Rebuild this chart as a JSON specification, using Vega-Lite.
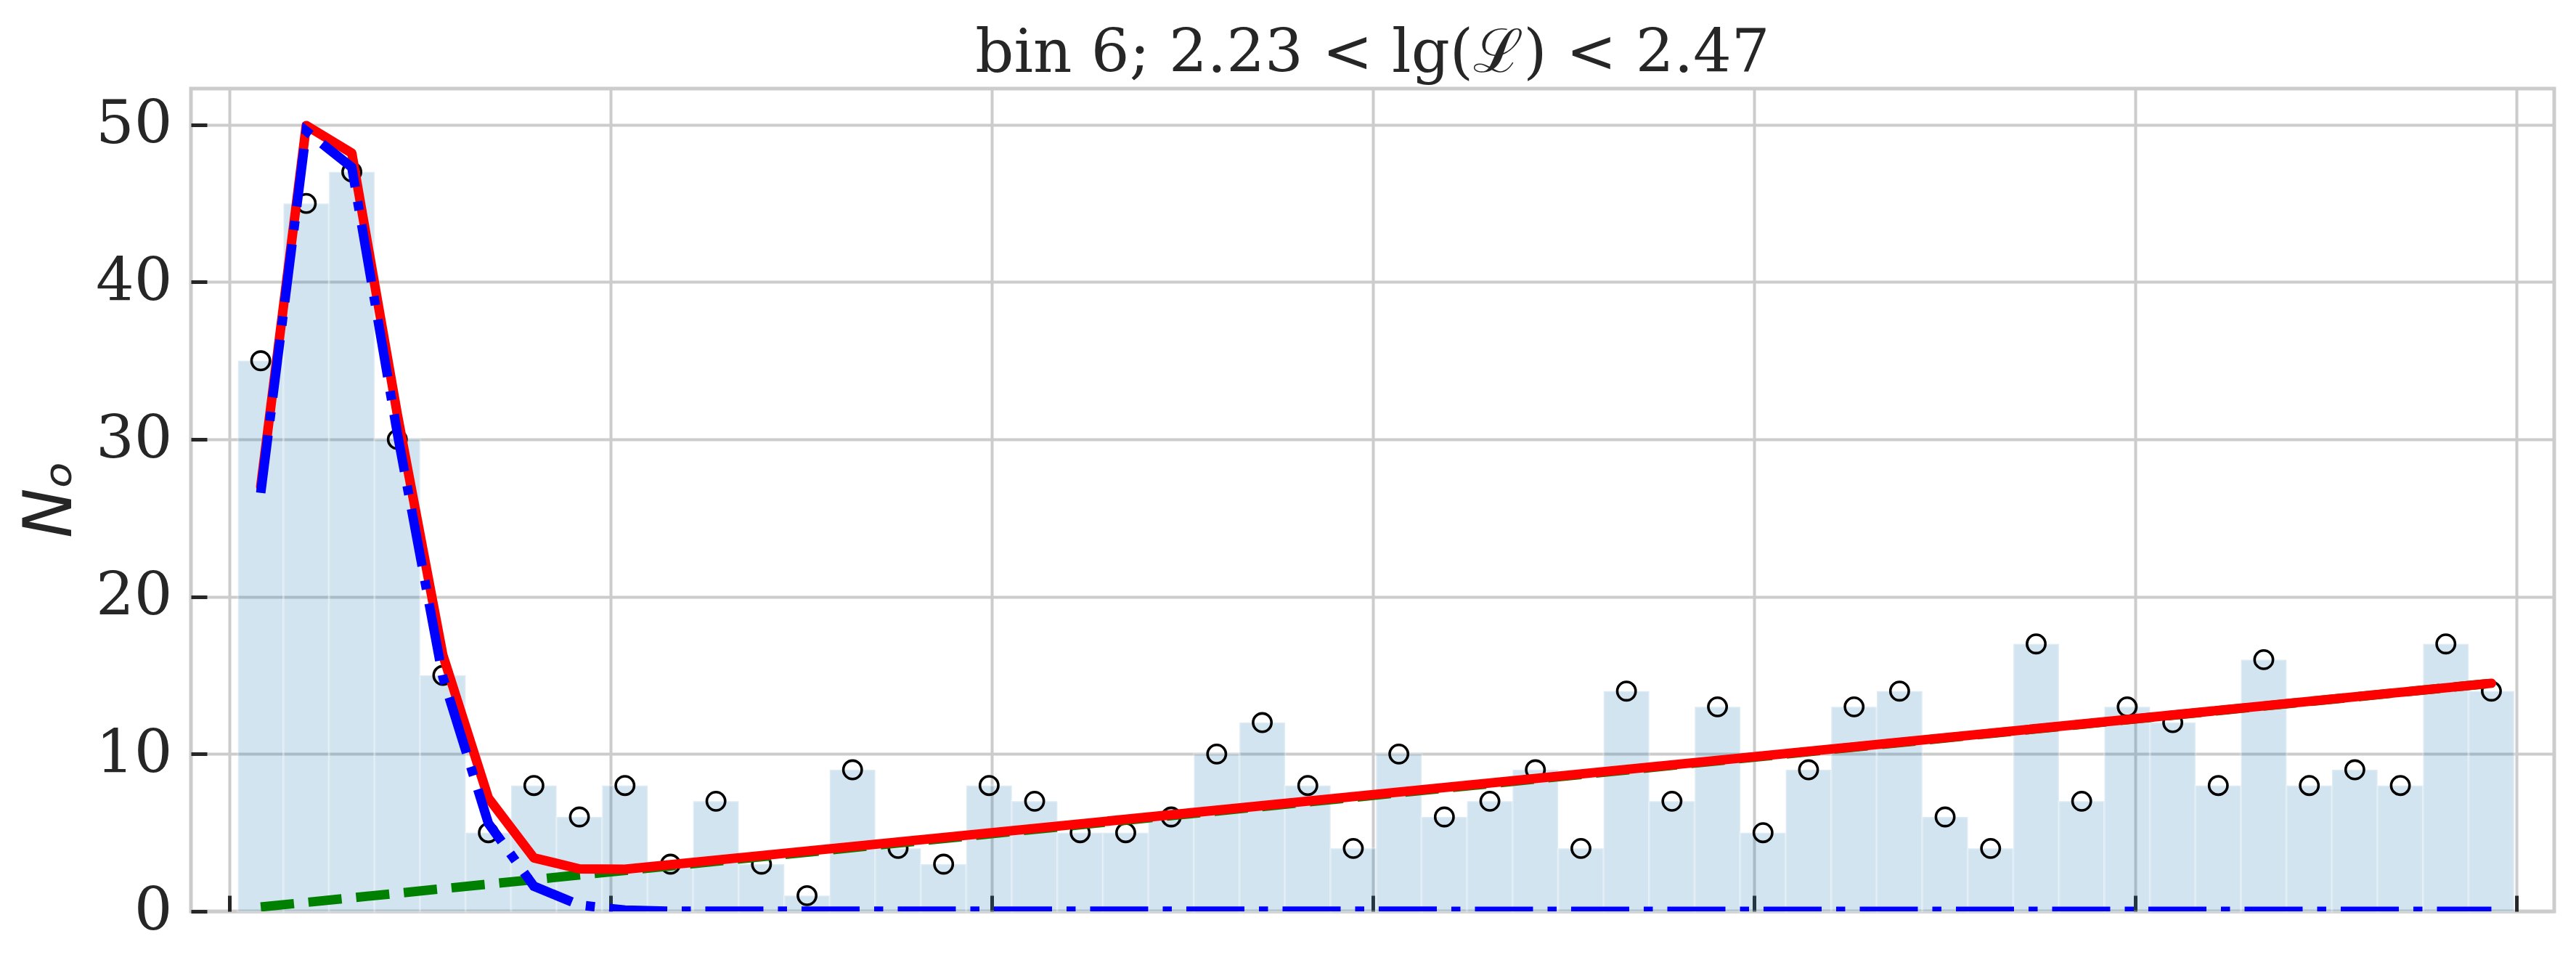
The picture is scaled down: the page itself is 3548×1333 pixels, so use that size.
{
  "$schema": "https://vega.github.io/schema/vega-lite/v6.json",
  "width": 3255,
  "height": 1133,
  "autosize": {"type": "none"},
  "padding": {"left": 263, "top": 122, "right": 30, "bottom": 78},
  "background": "white",
  "title": {
    "text": "bin 6; 2.23 < lg(ℒ) < 2.47",
    "font": "DejaVu Serif",
    "fontSize": 83,
    "fontWeight": "normal",
    "color": "#262626",
    "anchor": "middle",
    "baseline": "bottom",
    "offset": 3,
    "dy": 80
  },
  "config": {
    "view": {"stroke": "#cccccc", "strokeWidth": 5},
    "axis": {
      "domain": false,
      "gridColor": "#cccccc",
      "gridWidth": 4,
      "tickColor": "#262626",
      "tickWidth": 5,
      "tickSize": -22,
      "labelFont": "DejaVu Serif",
      "labelFontSize": 83,
      "labelColor": "#262626",
      "labelPadding": 48,
      "titleColor": "#262626"
    }
  },
  "datasets": {
    "hist": [
      {"lo": 0.0234, "hi": 0.1428, "c": 0.0831, "n": 35},
      {"lo": 0.1428, "hi": 0.2623, "c": 0.2025, "n": 45},
      {"lo": 0.2623, "hi": 0.3817, "c": 0.3220, "n": 47},
      {"lo": 0.3817, "hi": 0.5011, "c": 0.4414, "n": 30},
      {"lo": 0.5011, "hi": 0.6206, "c": 0.5608, "n": 15},
      {"lo": 0.6206, "hi": 0.7400, "c": 0.6803, "n": 5},
      {"lo": 0.7400, "hi": 0.8594, "c": 0.7997, "n": 8},
      {"lo": 0.8594, "hi": 0.9788, "c": 0.9191, "n": 6},
      {"lo": 0.9788, "hi": 1.0983, "c": 1.0386, "n": 8},
      {"lo": 1.0983, "hi": 1.2177, "c": 1.1580, "n": 3},
      {"lo": 1.2177, "hi": 1.3371, "c": 1.2774, "n": 7},
      {"lo": 1.3371, "hi": 1.4566, "c": 1.3968, "n": 3},
      {"lo": 1.4566, "hi": 1.5760, "c": 1.5163, "n": 1},
      {"lo": 1.5760, "hi": 1.6954, "c": 1.6357, "n": 9},
      {"lo": 1.6954, "hi": 1.8149, "c": 1.7551, "n": 4},
      {"lo": 1.8149, "hi": 1.9343, "c": 1.8746, "n": 3},
      {"lo": 1.9343, "hi": 2.0537, "c": 1.9940, "n": 8},
      {"lo": 2.0537, "hi": 2.1731, "c": 2.1134, "n": 7},
      {"lo": 2.1731, "hi": 2.2926, "c": 2.2329, "n": 5},
      {"lo": 2.2926, "hi": 2.4120, "c": 2.3523, "n": 5},
      {"lo": 2.4120, "hi": 2.5314, "c": 2.4717, "n": 6},
      {"lo": 2.5314, "hi": 2.6509, "c": 2.5911, "n": 10},
      {"lo": 2.6509, "hi": 2.7703, "c": 2.7106, "n": 12},
      {"lo": 2.7703, "hi": 2.8897, "c": 2.8300, "n": 8},
      {"lo": 2.8897, "hi": 3.0092, "c": 2.9494, "n": 4},
      {"lo": 3.0092, "hi": 3.1286, "c": 3.0689, "n": 10},
      {"lo": 3.1286, "hi": 3.2480, "c": 3.1883, "n": 6},
      {"lo": 3.2480, "hi": 3.3674, "c": 3.3077, "n": 7},
      {"lo": 3.3674, "hi": 3.4869, "c": 3.4271, "n": 9},
      {"lo": 3.4869, "hi": 3.6063, "c": 3.5466, "n": 4},
      {"lo": 3.6063, "hi": 3.7257, "c": 3.6660, "n": 14},
      {"lo": 3.7257, "hi": 3.8452, "c": 3.7854, "n": 7},
      {"lo": 3.8452, "hi": 3.9646, "c": 3.9049, "n": 13},
      {"lo": 3.9646, "hi": 4.0840, "c": 4.0243, "n": 5},
      {"lo": 4.0840, "hi": 4.2035, "c": 4.1437, "n": 9},
      {"lo": 4.2035, "hi": 4.3229, "c": 4.2632, "n": 13},
      {"lo": 4.3229, "hi": 4.4423, "c": 4.3826, "n": 14},
      {"lo": 4.4423, "hi": 4.5617, "c": 4.5020, "n": 6},
      {"lo": 4.5617, "hi": 4.6812, "c": 4.6214, "n": 4},
      {"lo": 4.6812, "hi": 4.8006, "c": 4.7409, "n": 17},
      {"lo": 4.8006, "hi": 4.9200, "c": 4.8603, "n": 7},
      {"lo": 4.9200, "hi": 5.0395, "c": 4.9797, "n": 13},
      {"lo": 5.0395, "hi": 5.1589, "c": 5.0992, "n": 12},
      {"lo": 5.1589, "hi": 5.2783, "c": 5.2186, "n": 8},
      {"lo": 5.2783, "hi": 5.3978, "c": 5.3380, "n": 16},
      {"lo": 5.3978, "hi": 5.5172, "c": 5.4575, "n": 8},
      {"lo": 5.5172, "hi": 5.6366, "c": 5.5769, "n": 9},
      {"lo": 5.6366, "hi": 5.7560, "c": 5.6963, "n": 8},
      {"lo": 5.7560, "hi": 5.8755, "c": 5.8157, "n": 17},
      {"lo": 5.8755, "hi": 5.9949, "c": 5.9352, "n": 14}
    ],
    "bg": [
      {"c": 0.0831, "v": 0.28},
      {"c": 5.9352, "v": 14.5}
    ],
    "total": [
      {"c": 0.0831, "v": 27.0},
      {"c": 0.2025, "v": 49.95},
      {"c": 0.3220, "v": 48.2},
      {"c": 0.4414, "v": 31.6},
      {"c": 0.5608, "v": 16.3},
      {"c": 0.6803, "v": 7.2},
      {"c": 0.7997, "v": 3.4},
      {"c": 0.9191, "v": 2.7},
      {"c": 1.0386, "v": 2.68},
      {"c": 5.9352, "v": 14.5}
    ],
    "peak": [
      {"c": 0.0831, "v": 26.6},
      {"c": 0.2025, "v": 49.6},
      {"c": 0.3220, "v": 47.3},
      {"c": 0.4414, "v": 30.4},
      {"c": 0.5608, "v": 14.9},
      {"c": 0.6803, "v": 5.6},
      {"c": 0.7997, "v": 1.6},
      {"c": 0.9191, "v": 0.4},
      {"c": 1.0386, "v": 0.08},
      {"c": 1.1580, "v": 0.01},
      {"c": 5.9352, "v": 0.0}
    ]
  },
  "layer": [
    {
      "data": {"name": "hist"},
      "mark": {"type": "bar", "fill": "#1f77b4", "fillOpacity": 0.2, "stroke": "white", "strokeOpacity": 0.25, "strokeWidth": 3},
      "encoding": {
        "x": {"field": "lo", "type": "quantitative", "scale": {"domain": [-0.1, 6.1], "nice": false, "zero": false},
              "axis": {"values": [0, 1, 2, 3, 4, 5, 6], "labels": false, "title": null, "grid": true}},
        "x2": {"field": "hi"},
        "y": {"field": "n", "type": "quantitative", "scale": {"domain": [0, 52.3], "nice": false},
              "axis": {"values": [0, 10, 20, 30, 40, 50], "grid": true, "title": "Nₒ",
                       "titleFont": "DejaVu Sans", "titleFontStyle": "italic", "titleFontWeight": "normal", "titleFontSize": 92,
                       "titleX": -166, "titleY": 565, "titleAngle": -90, "titleAlign": "center", "titleBaseline": "alphabetic"}},
        "y2": {"datum": 0}
      }
    },
    {
      "data": {"name": "hist"},
      "mark": {"type": "point", "shape": "circle", "filled": false, "stroke": "black", "strokeWidth": 3.6, "size": 640, "opacity": 1},
      "encoding": {
        "x": {"field": "c", "type": "quantitative"},
        "y": {"field": "n", "type": "quantitative"}
      }
    },
    {
      "data": {"name": "bg"},
      "mark": {"type": "line", "color": "green", "strokeWidth": 13, "strokeDash": [46, 20], "strokeCap": "butt", "clip": true},
      "encoding": {
        "x": {"field": "c", "type": "quantitative"},
        "y": {"field": "v", "type": "quantitative"}
      }
    },
    {
      "data": {"name": "total"},
      "mark": {"type": "line", "color": "red", "strokeWidth": 13, "strokeCap": "round", "strokeJoin": "round", "clip": true},
      "encoding": {
        "x": {"field": "c", "type": "quantitative"},
        "y": {"field": "v", "type": "quantitative"}
      }
    },
    {
      "data": {"name": "peak"},
      "mark": {"type": "line", "color": "blue", "strokeWidth": 13, "strokeDash": [80, 20, 12.5, 20], "strokeCap": "butt", "clip": true},
      "encoding": {
        "x": {"field": "c", "type": "quantitative"},
        "y": {"field": "v", "type": "quantitative"}
      }
    }
  ]
}
